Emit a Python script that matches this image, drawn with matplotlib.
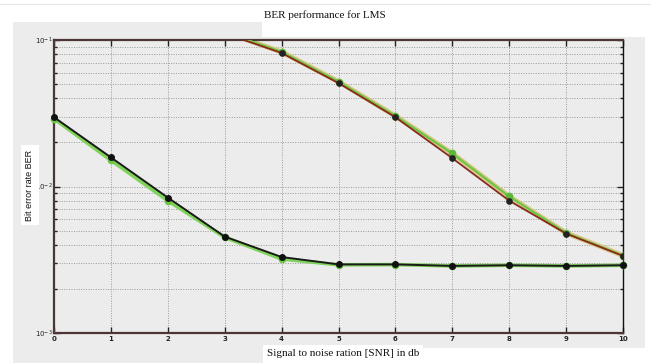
import matplotlib
matplotlib.use("Agg")
import matplotlib.pyplot as plt
from matplotlib.patches import Rectangle
from matplotlib.ticker import LogLocator, NullFormatter, FixedLocator

W, H = 651, 363

snr = [0, 1, 2, 3, 4, 5, 6, 7, 8, 9, 10]
ber_low_black = [0.0297, 0.0158, 0.0084, 0.00455, 0.0033, 0.00294, 0.00294, 0.00287, 0.0029, 0.00287, 0.0029]
ber_low_green = [0.0290, 0.0151, 0.0080, 0.00450, 0.0032, 0.00292, 0.00293, 0.00287, 0.0029, 0.00287, 0.0029]

snr_up = [3, 4, 5, 6, 7, 8, 9, 10]
ber_up_red = [0.111, 0.0815, 0.0508, 0.0297, 0.0156, 0.0080, 0.00477, 0.00336]
ber_up_green = [0.113, 0.0830, 0.0520, 0.0303, 0.0168, 0.00855, 0.00482, 0.00338]

xticks = [0, 1, 2, 3, 4, 5, 6, 7, 8, 9, 10]
yticks = [1e-3, 1e-2, 1e-1]
ytick_labels = [r'$10^{-3}$', r'$10^{-2}$', r'$10^{-1}$']

bg = '#ececec'
frame = '#4d3535'

fig = plt.figure(figsize=(W / 100, H / 100), dpi=100)
fig.patch.set_facecolor('white')

def fig_rect(x0, y0, x1, y1, color):
    fig.add_artist(Rectangle((x0 / W, 1 - y1 / H), (x1 - x0) / W, (y1 - y0) / H,
                             transform=fig.transFigure, facecolor=color,
                             edgecolor='none', zorder=-10))

fig_rect(13, 22, 645, 348, bg)
fig_rect(13, 348, 265, 363, bg)
fig_rect(262, 0, 651, 37, 'white')
fig_rect(0, 4, 651, 5, '#e6e6e6')

ax = fig.add_axes([54 / W, 1 - 333 / H, (623 - 54) / W, (333 - 40) / H])
ax.set_facecolor(bg)
ax.set_yscale('log')
ax.set_xlim(0, 10)
ax.set_ylim(1e-3, 1e-1)

# lower curve
ax.plot(snr, ber_low_green, color='#7fd35a', lw=2.6, marker='o', ms=4.5,
        mfc='#6cc644', mec='#6cc644', zorder=3, clip_on=False)
ax.plot(snr, ber_low_black, color='#1a1a1a', lw=1.4, marker='o', ms=4,
        mfc='#111111', mec='#111111', zorder=4, clip_on=False)

# upper curve
ax.plot(snr_up, ber_up_green, color='#d9c88a', lw=3.6, zorder=2)
ax.plot(snr_up, ber_up_green, color='#6cc644', lw=1.6, marker='o', ms=4.5,
        mfc='#5cb838', mec='#5cb838', zorder=3)
ax.plot(snr_up, ber_up_red, color='#8a2a1a', lw=1.3, marker='o', ms=3.8,
        mfc='#222222', mec='#222222', zorder=4)

ax.xaxis.set_major_locator(FixedLocator(xticks))
ax.set_xticklabels([str(t) for t in xticks])
ax.yaxis.set_major_locator(FixedLocator(yticks))
ax.set_yticklabels(ytick_labels)
ax.yaxis.set_minor_locator(LogLocator(base=10, subs=range(2, 10)))
ax.yaxis.set_minor_formatter(NullFormatter())

ax.grid(True, which='major', axis='x', color='#999999', ls=(0, (1, 1.5)), lw=0.7)
ax.grid(True, which='both', axis='y', color='#999999', ls=(0, (1, 1.5)), lw=0.7)

ax.tick_params(axis='both', which='both', direction='in', top=True, right=True,
               labelsize=5, colors='#222222', length=4, width=1)
ax.tick_params(axis='y', which='minor', length=2.5)
for lab in ax.get_xticklabels() + ax.get_yticklabels():
    lab.set_fontweight('bold')
ax.tick_params(axis='x', pad=2)
ax.tick_params(axis='y', pad=1)

for s in ['left', 'bottom', 'top']:
    ax.spines[s].set_color(frame)
    ax.spines[s].set_linewidth(1.6)
ax.spines['right'].set_color('#111111')
ax.spines['right'].set_linewidth(1.0)

fig.text(325 / W, 1 - 15 / H, 'BER performance for LMS', ha='center', va='center',
         fontsize=8, family='Liberation Serif', color='#111111')
fig.text(343 / W, 1 - 354 / H, 'Signal to noise ration [SNR] in db', ha='center',
         va='center', fontsize=8, family='Liberation Serif', color='#111111',
         bbox=dict(facecolor='white', edgecolor='none', pad=3))
fig.text(30 / W, 1 - 185 / H, 'Bit error rate BER', ha='center', va='center',
         rotation=90, fontsize=6.5, family='Liberation Sans', color='#111111',
         bbox=dict(facecolor='white', edgecolor='none', pad=3))

fig.savefig('out.png', dpi=100, facecolor=fig.get_facecolor())
